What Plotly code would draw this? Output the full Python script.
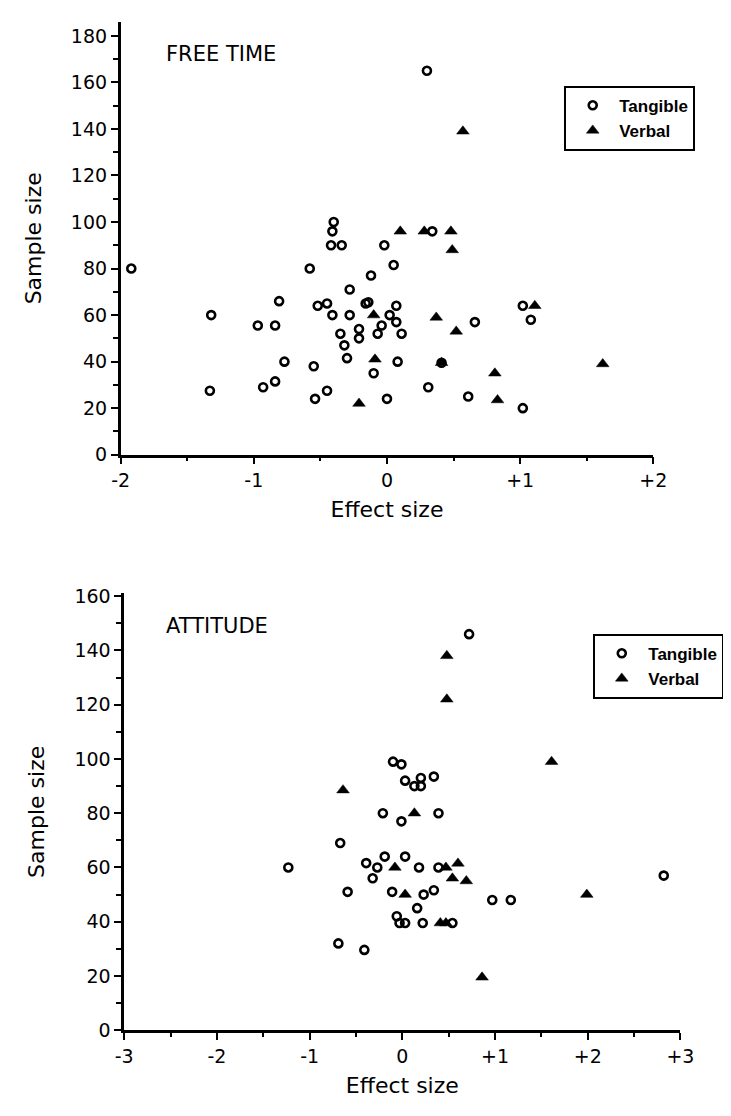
import plotly.graph_objects as go

# ---- FREE TIME panel data ----
ft_tangible_x = [-0.40, -0.41, -0.42, -0.34, -0.02, 0.30, 0.34, -1.92, -0.58, 0.05,
                 -0.12, -0.28, -0.81, -0.52, -0.45, -0.16, -0.14, 0.07, -1.32, -0.41,
                 -0.28, 0.02, 0.07, -0.04, -0.97, -0.84, -0.35, -0.21, -0.21, -0.07,
                 0.11, -0.32, -0.30, -0.77, 0.08, -0.55, -0.10, -1.33, -0.93, -0.84,
                 -0.45, -0.54, 0.00, 0.66, 1.02, 1.08, 0.41, 0.31, 0.61, 1.02]
ft_tangible_y = [100, 96, 90, 90, 90, 165, 96, 80, 80, 81.5,
                 77, 71, 66, 64, 65, 65, 65.5, 64, 60, 60,
                 60, 60, 57, 55.5, 55.5, 55.5, 52, 54, 50, 52,
                 52, 47, 41.5, 40, 40, 38, 35, 27.5, 29, 31.5,
                 27.5, 24, 24, 57, 64, 58, 39.5, 29, 25, 20]
ft_verbal_x = [0.10, 0.28, 0.48, 0.49, 0.57, -0.10, -0.09, -0.21, 0.37, 0.52,
               1.11, 0.41, 0.81, 1.62, 0.83]
ft_verbal_y = [96, 96, 96, 88, 139, 60, 41, 22, 59, 53,
               64, 39.5, 35, 39, 23.5]

# ---- ATTITUDE panel data ----
at_tangible_x = [0.72, -0.10, -0.01, 0.03, 0.13, 0.20, 0.20, 0.34, -0.21, -0.01,
                 0.39, -1.23, -0.67, -0.59, -0.69, -0.41, -0.39, -0.27, -0.32, -0.19,
                 0.03, 0.18, -0.11, 0.23, 0.16, -0.06, -0.03, 0.03, 0.22, 0.39,
                 0.34, 0.54, 0.97, 1.17, 2.82]
at_tangible_y = [146, 99, 98, 92, 90, 93, 90, 93.5, 80, 77,
                 80, 60, 69, 51, 32, 29.6, 61.6, 60, 56, 64,
                 64, 60, 51, 50, 45, 42, 39.5, 39.5, 39.5, 60,
                 51.6, 39.5, 48, 48, 57]
at_verbal_x = [0.48, 0.48, 1.61, -0.64, 0.13, -0.08, 0.03, 0.47, 0.60, 0.54,
               0.69, 0.41, 0.47, 1.99, 0.86]
at_verbal_y = [138, 122, 99, 88.5, 80, 60, 50, 60, 61.5, 56,
               55, 39.5, 39.5, 50, 19.5]

top_xticks = [-2, -1, 0, 1, 2]
top_xlabels = ["-2", "-1", "0", "+1", "+2"]
bot_xticks = [-3, -2, -1, 0, 1, 2, 3]
bot_xlabels = ["-3", "-2", "-1", "0", "+1", "+2", "+3"]
top_yticks = [0, 20, 40, 60, 80, 100, 120, 140, 160, 180]
bot_yticks = [0, 20, 40, 60, 80, 100, 120, 140, 160]

W, H = 731, 1116
FONT = "DejaVu Sans"

def px(x):
    return x / W

def py(y):
    return 1 - y / H

circle = dict(symbol="circle-open", size=8, color="black", line=dict(color="black", width=2.6))
tri = dict(symbol="triangle-up", size=11, color="black", line=dict(color="black", width=0.5))

fig = go.Figure()
fig.add_trace(go.Scatter(x=ft_tangible_x, y=ft_tangible_y, mode="markers", name="Tangible",
                         marker=circle, xaxis="x", yaxis="y", legend="legend"))
fig.add_trace(go.Scatter(x=ft_verbal_x, y=ft_verbal_y, mode="markers", name="Verbal",
                         marker=tri, xaxis="x", yaxis="y", legend="legend"))
fig.add_trace(go.Scatter(x=at_tangible_x, y=at_tangible_y, mode="markers", name="Tangible",
                         marker=circle, xaxis="x2", yaxis="y2", legend="legend2"))
fig.add_trace(go.Scatter(x=at_verbal_x, y=at_verbal_y, mode="markers", name="Verbal",
                         marker=tri, xaxis="x2", yaxis="y2", legend="legend2"))

tickfont = dict(family=FONT, size=19, color="black")
titlefont = dict(family=FONT, size=22, color="black")
legfont = dict(family="Liberation Sans", size=17, color="black", weight="bold")

common_x = dict(showline=True, linewidth=2.5, linecolor="black", ticks="outside",
                ticklen=7, tickwidth=2, tickcolor="black", showgrid=False, zeroline=False,
                tickfont=tickfont, fixedrange=True)
common_y = dict(showline=True, linewidth=2.5, linecolor="black", ticks="outside",
                ticklen=7, tickwidth=2, tickcolor="black", showgrid=False, zeroline=False,
                tickfont=tickfont, fixedrange=True,
                minor=dict(dtick=10, ticks="outside", ticklen=5, tickwidth=2, tickcolor="black",
                           showgrid=False))

fig.update_layout(
    width=W, height=H, margin=dict(l=0, r=0, t=0, b=0),
    paper_bgcolor="white", plot_bgcolor="white",
    font=dict(family=FONT, color="black"),
    xaxis=dict(common_x, domain=[px(107), px(657)], range=[-2, 2], anchor="y",
               tickvals=top_xticks, ticktext=top_xlabels,
               minor=dict(tickvals=[-1.5, -0.5, 0.5, 1.5], ticks="outside", ticklen=4,
                          tickwidth=2, tickcolor="black", showgrid=False),
               title=dict(text="Effect size", font=titlefont, standoff=12)),
    yaxis=dict(common_y, domain=[py(445.7), py(5)], range=[0, 186], anchor="x",
               tickvals=top_yticks,
               title=dict(text="Sample size", font=titlefont, standoff=24)),
    xaxis2=dict(common_x, domain=[px(110.7), px(685)], range=[-3, 3], anchor="y2",
                tickvals=bot_xticks, ticktext=bot_xlabels,
                minor=dict(tickvals=[-2.5, -1.5, -0.5, 0.5, 1.5, 2.5], ticks="outside",
                           ticklen=4, tickwidth=2, tickcolor="black", showgrid=False),
                title=dict(text="Effect size", font=titlefont, standoff=12)),
    yaxis2=dict(common_y, domain=[py(1031.7), py(587)], range=[0, 161], anchor="x2",
                tickvals=bot_yticks,
                title=dict(text="Sample size", font=titlefont, standoff=24)),
    legend=dict(x=px(565), y=py(70), xanchor="left", yanchor="top",
                bordercolor="black", borderwidth=2, bgcolor="white",
                font=legfont, itemwidth=43, tracegroupgap=0),
    legend2=dict(x=px(595), y=py(628), xanchor="left", yanchor="top",
                 bordercolor="black", borderwidth=2, bgcolor="white",
                 font=legfont, itemwidth=43, tracegroupgap=0),
    annotations=[
        dict(text="FREE TIME", x=px(152), y=py(38), xref="paper", yref="paper",
             xanchor="left", yanchor="middle", showarrow=False,
             font=dict(family=FONT, size=21, color="black")),
        dict(text="ATTITUDE", x=px(152), y=py(620), xref="paper", yref="paper",
             xanchor="left", yanchor="middle", showarrow=False,
             font=dict(family=FONT, size=21, color="black")),
    ],
)

fig.write_html("out.html")
